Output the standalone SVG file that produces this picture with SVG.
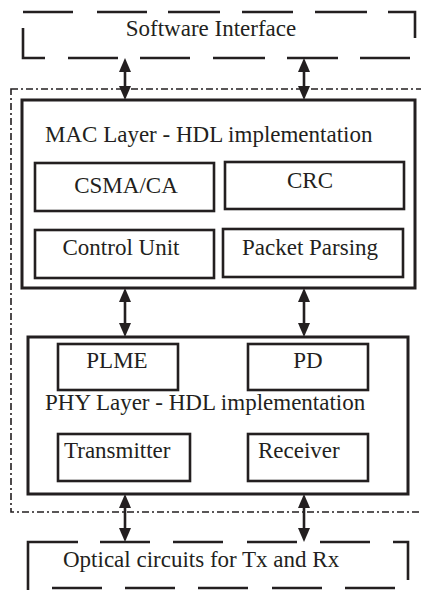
<svg xmlns="http://www.w3.org/2000/svg" width="421" height="590" viewBox="0 0 421 590">
<style>
.t{font-family:"Liberation Serif","Times New Roman",serif;font-size:23px;fill:#231f20}
.m{text-anchor:middle}
.box{fill:none;stroke:#231f20;stroke-width:2.6}
.big{fill:none;stroke:#231f20;stroke-width:3}
.dash{fill:none;stroke:#231f20;stroke-width:2.6}
.dd{fill:none;stroke:#231f20;stroke-width:1.6;stroke-dasharray:7 3 2 3}
.arr{fill:none;stroke:#231f20;stroke-width:2.6}
</style>
<defs>
<marker id="ah" viewBox="0 0 14 12" refX="0" refY="6" markerWidth="14" markerHeight="12" markerUnits="userSpaceOnUse" orient="auto-start-reverse">
<path d="M0,0 L14,6 L0,12 z" fill="#231f20"/>
</marker>
</defs>
<rect fill="#fff" x="0" y="0" width="421" height="590"/>

<g id="boundary">
<rect class="dd" x="11" y="89" width="420" height="423"/>
</g>

<g id="software">
<path class="dash" d="M23,12H73M97,12H147M168,12H220M242,12H293M315,12H367M388,12H415V38M23,28V58H45M68,58H118M140,58H190M213,58H265M287,58H338M360,58H410"/>
<text class="t m" x="211" y="36">Software Interface</text>
</g>

<g id="mac">
<rect class="big" x="22" y="100" width="393" height="188"/>
<text class="t" x="45" y="142">MAC Layer - HDL implementation</text>
</g>
<g id="csma"><rect class="box" x="35" y="163" width="179" height="48"/><text class="t m" x="126" y="193">CSMA/CA</text></g>
<g id="crc"><rect class="box" x="225" y="162" width="179" height="47"/><text class="t m" x="310" y="188">CRC</text></g>
<g id="control"><rect class="box" x="35" y="230" width="179" height="48"/><text class="t m" x="121" y="255">Control Unit</text></g>
<g id="packet"><rect class="box" x="223" y="229" width="180" height="48"/><text class="t m" x="310" y="255">Packet Parsing</text></g>

<g id="phy">
<rect class="big" x="28" y="337" width="380" height="157"/>
<text class="t" x="45" y="410">PHY Layer - HDL implementation</text>
</g>
<g id="plme"><rect class="box" x="58" y="344" width="120" height="46"/><text class="t m" x="117" y="368">PLME</text></g>
<g id="pd"><rect class="box" x="248" y="344" width="120" height="46"/><text class="t m" x="308" y="368">PD</text></g>
<g id="tx"><rect class="box" x="58" y="434" width="132" height="47"/><text class="t" x="64" y="458">Transmitter</text></g>
<g id="rx"><rect class="box" x="248" y="434" width="120" height="47"/><text class="t" x="258" y="458">Receiver</text></g>

<g id="optical">
<path class="dash" d="M78,542H28V592M100,542H150M173,542H223M247,542H297M320,542H370M393,542H408V580M52,588H102M125,588H175M198,588H248M272,588H322M345,588H395"/>
<text class="t" x="63" y="567">Optical circuits for Tx and Rx</text>
</g>

<g id="connectors">
<path class="arr" marker-start="url(#ah)" marker-end="url(#ah)" d="M125,72V86"/>
<path class="arr" marker-start="url(#ah)" marker-end="url(#ah)" d="M304,72V86"/>
<path class="arr" marker-start="url(#ah)" marker-end="url(#ah)" d="M125,302V323"/>
<path class="arr" marker-start="url(#ah)" marker-end="url(#ah)" d="M304,302V323"/>
<path class="arr" marker-start="url(#ah)" marker-end="url(#ah)" d="M125,508V528"/>
<path class="arr" marker-start="url(#ah)" marker-end="url(#ah)" d="M304,508V528"/>
</g>
</svg>
